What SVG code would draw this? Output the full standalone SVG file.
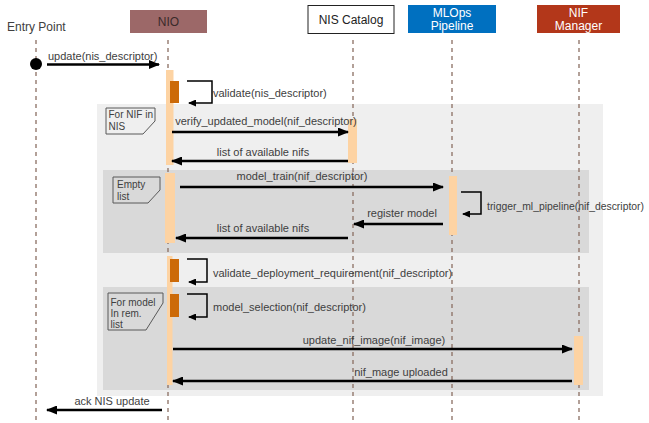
<svg xmlns="http://www.w3.org/2000/svg" width="649" height="423" viewBox="0 0 649 423">
<defs>
<marker id="ah" markerUnits="userSpaceOnUse" markerWidth="11" markerHeight="9" refX="10" refY="4.5" orient="auto"><path d="M0,0 L11,4.5 L0,9 z" fill="#000"/></marker>
<marker id="ahs" markerUnits="userSpaceOnUse" markerWidth="8" markerHeight="7" refX="7" refY="3.5" orient="auto"><path d="M0,0 L8,3.5 L0,7 z" fill="#000"/></marker>
</defs>
<style>
text{font-family:"Liberation Sans",Arial,sans-serif;fill:#404040}
.lbl{font-size:11px}
.mid{text-anchor:middle}
.hd{font-size:12px;text-anchor:middle}
.life{stroke:#8a6e62;stroke-width:1.3;stroke-dasharray:4 4;fill:none}
.msg{stroke:#000;stroke-width:2.6;fill:none;marker-end:url(#ah)}
.self{stroke:#000;stroke-width:1.5;fill:none;marker-end:url(#ahs)}
.act{fill:#fdd3a3}
.act2{fill:#cc6a08}
.note{fill:none;stroke:#595959;stroke-width:1}
.nt{font-size:10px}
</style>
<rect width="649" height="423" fill="#fff"/>
<g id="fragments">
<rect x="97" y="104" width="506" height="292" fill="#efefef"/>
<rect x="103" y="170" width="486" height="83" fill="#d9d9d9"/>
<rect x="103" y="287" width="486" height="103" fill="#d9d9d9"/>
</g>
<g id="entry"><text x="7" y="31" style="font-size:12px">Entry Point</text><line class="life" x1="36" y1="40" x2="36" y2="423"/></g>
<g id="nio"><rect x="130" y="10" width="77" height="23" fill="#9c6868"/><text x="168.5" y="26" class="hd" style="fill:#3a2a2a">NIO</text><line class="life" x1="168" y1="40" x2="168" y2="423"/></g>
<g id="nis_catalog"><rect x="308" y="5.5" width="86" height="28" fill="#fff" stroke="#222" stroke-width="1"/><text x="351" y="24" class="hd" style="fill:#222">NIS Catalog</text><line class="life" x1="353" y1="40" x2="353" y2="423"/></g>
<g id="mlops"><rect x="408" y="5" width="88" height="28" fill="#0070c0"/><text x="452" y="17" class="hd" style="fill:#fff">MLOps</text><text x="452" y="30" class="hd" style="fill:#fff">Pipeline</text><line class="life" x1="452" y1="40" x2="452" y2="423"/></g>
<g id="nif_manager"><rect x="537" y="5" width="83" height="28" fill="#b3371a"/><text x="578.5" y="17" class="hd" style="fill:#fff">NIF</text><text x="578.5" y="30" class="hd" style="fill:#fff">Manager</text><line class="life" x1="579" y1="40" x2="579" y2="423"/></g>
<g id="activations">
<rect class="act" x="166" y="70" width="7.5" height="95"/>
<rect class="act" x="165" y="173" width="10" height="70"/>
<rect class="act" x="167" y="256" width="5.5" height="129"/>
<rect class="act" x="348" y="119" width="9" height="44"/>
<rect class="act" x="449" y="176" width="8" height="59"/>
<rect class="act" x="574" y="336" width="9" height="49"/>
<rect class="act2" x="170" y="81" width="9" height="22"/>
<rect class="act2" x="170" y="259" width="9" height="23"/>
<rect class="act2" x="170" y="294" width="9" height="23"/>
</g>
<g id="notes">
<path class="note" d="M106,108 H155 V121 L143,134 H106 Z"/>
<text class="nt" x="108.5" y="118">For NIF in</text><text class="nt" x="108.5" y="130">NIS</text>
<path class="note" d="M113,177 H160 V190 L148,203 H113 Z"/>
<text class="nt" x="117" y="188">Empty</text><text class="nt" x="117" y="200">list</text>
<path class="note" d="M108,293 H163 V303 L146,330 H108 Z"/>
<text class="nt" x="110.5" y="306">For model</text><text class="nt" x="110.5" y="317">In rem.</text><text class="nt" x="110.5" y="328">list</text>
</g>
<g id="connectors">
<circle cx="36" cy="64" r="6" fill="#000"/>
<line class="msg" x1="47" y1="64.5" x2="159" y2="64.5"/>
<polyline class="self" points="187,81 212,81 212,103 189,103"/>
<line class="msg" x1="172" y1="132" x2="348" y2="132"/>
<line class="msg" x1="348" y1="161" x2="172" y2="161"/>
<line class="msg" x1="180" y1="187" x2="443" y2="187"/>
<polyline class="self" points="461,192 481,192 481,214 463,214"/>
<line class="msg" x1="443" y1="224" x2="354" y2="224"/>
<line class="msg" x1="348" y1="238" x2="176" y2="238"/>
<polyline class="self" points="187,259 207,259 207,282 189,282"/>
<polyline class="self" points="187,294 207,294 207,317 189,317"/>
<line class="msg" x1="173" y1="349" x2="572" y2="349"/>
<line class="msg" x1="572" y1="381" x2="173" y2="381"/>
<line class="msg" x1="162" y1="410" x2="47" y2="410"/>
</g>
<g id="labels">
<text class="lbl" x="48" y="60">update(nis_descriptor)</text>
<text class="lbl" x="213" y="97">validate(nis_descriptor)</text>
<text class="lbl mid" x="266" y="125">verify_updated_model(nif_descriptor)</text>
<text class="lbl mid" x="263" y="156">list of available nifs</text>
<text class="lbl mid" x="302" y="180">model_train(nif_descriptor)</text>
<text class="lbl" x="487" y="210" textLength="157" lengthAdjust="spacingAndGlyphs">trigger_ml_pipeline(nif_descriptor)</text>
<text class="lbl mid" x="402" y="217">register model</text>
<text class="lbl mid" x="263" y="232">list of available nifs</text>
<text class="lbl" x="213" y="277">validate_deployment_requirement(nif_descriptor)</text>
<text class="lbl" x="213" y="311">model_selection(nif_descriptor)</text>
<text class="lbl mid" x="374" y="344">update_nif_image(nif_image)</text>
<text class="lbl mid" x="401" y="376">nif_mage uploaded</text>
<text class="lbl mid" x="112" y="405">ack NIS update</text>
</g>
</svg>
